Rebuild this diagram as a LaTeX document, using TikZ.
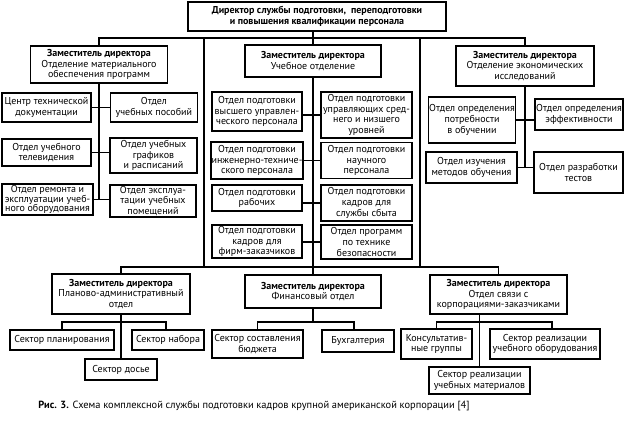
\documentclass[tikz,border=0pt]{standalone}
\usepackage{fontspec}
\setmainfont{PT Sans}
\newfontfamily\capfont{PT Sans}
\usetikzlibrary{positioning}

\begin{document}
\begin{tikzpicture}[x=1pt, y=-1pt,
    box/.style={draw, line width=1.4pt, align=center, inner sep=0.5pt, font=\fontsize{10}{10.8}\selectfont},
    bus/.style={line width=1.2pt}]
    \useasboundingbox (0,0) rectangle (625,422);
    % top and deputies
    \node[box, minimum width=258, minimum height=29] (dir) at (317,16.5) {\textbf{Директор службы подготовки,\ \ переподготовки}\\\textbf{и повышения квалификации персонала}};
    \node[box, minimum width=137, minimum height=37] (z1) at (99,64.5) {\textbf{Заместитель директора}\\Отделение материального\\обеспечения программ};
    \node[box, minimum width=136, minimum height=32] (z2) at (313,61) {\textbf{Заместитель директора}\\Учебное отделение};
    \node[box, minimum width=138, minimum height=40] (z3) at (525,66) {\textbf{Заместитель директора}\\Отделение экономических\\исследований};
    % left column
    \node[box, minimum width=89, minimum height=29] (a1) at (46.5,107.5) {Центр технической\\документации};
    \node[box, minimum width=87, minimum height=29, right=18pt of a1] (a2) {Отдел\\учебных пособий};
    \node[box, minimum width=89, minimum height=27] (a3) at (46.5,152.5) {Отдел учебного\\телевидения};
    \node[box, minimum width=87, minimum height=35] (a4) at (153.5,155.5) {Отдел учебных\\графиков\\и расписаний};
    \node[box, minimum width=91, minimum height=31, font=\fontsize{10}{9.8}\selectfont] (a5) at (47.5,199.5) {Отдел ремонта и\\эксплуатации учеб-\\ного оборудования};
    \node[box, minimum width=86, minimum height=32] (a6) at (153,201) {Отдел эксплуа-\\тации учебных\\помещений};
    % centre column
    \node[box, minimum width=90, minimum height=39] (c1) at (257,111.5) {Отдел подготовки\\высшего управлен-\\ческого персонала};
    \node[box, minimum width=91, minimum height=46] (c2) at (366.5,115) {Отдел подготовки\\управляющих сред-\\него и низшего\\уровней};
    \node[box, minimum width=90, minimum height=37] (c3) at (257,160.5) {Отдел подготовки\\инженерно-техниче-\\ского персонала};
    \node[box, minimum width=91, minimum height=36] (c4) at (366.5,160.5) {Отдел подготовки\\научного\\персонала};
    \node[box, minimum width=90, minimum height=26] (c5) at (257,198) {Отдел подготовки\\рабочих};
    \node[box, minimum width=91, minimum height=36] (c6) at (366.5,203) {Отдел подготовки\\кадров для\\службы сбыта};
    \node[box, minimum width=90, minimum height=33] (c7) at (257,241.5) {Отдел подготовки\\кадров для\\фирм-заказчиков};
    \node[box, minimum width=91, minimum height=34] (c8) at (366.5,242) {Отдел программ\\по технике\\безопасности};
    % right column
    \node[box, minimum width=86, minimum height=46] (b1) at (472,120) {Отдел определения\\потребности\\в обучении};
    \node[box, minimum width=88, minimum height=31] (b2) at (579,114.5) {Отдел определения\\эффективности};
    \node[box, minimum width=91, minimum height=31] (b3) at (471.5,167.5) {Отдел изучения\\методов обучения};
    \node[box, minimum width=89, minimum height=41] (b4) at (578.5,172.5) {Отдел разработки\\тестов};
    % bottom row
    \node[box, minimum width=138, minimum height=40] (z4) at (121,294) {\textbf{Заместитель директора}\\Планово-административный\\отдел};
    \node[box, minimum width=136, minimum height=33] (z5) at (313,291.5) {\textbf{Заместитель директора}\\Финансовый отдел};
    \node[box, minimum width=137, minimum height=39] (z6) at (498.5,294.5) {\textbf{Заместитель директора}\\Отдел связи с\\корпорациями-заказчиками};
    \node[box, minimum width=104, minimum height=20] (s1) at (62,340) {Сектор планирования};
    \node[box, minimum width=72, minimum height=20] (s2) at (168,340) {Сектор набора};
    \node[box, minimum width=72, minimum height=21] (s3) at (121,369.5) {Сектор досье};
    \node[box, minimum width=91, minimum height=28] (f1) at (257.5,344) {Сектор составления\\бюджета};
    \node[box, minimum width=72, minimum height=22] (f2) at (358,341) {Бухгалтерия};
    \node[box, minimum width=71, minimum height=30] (k1) at (436.5,344) {Консультатив-\\ные группы};
    \node[box, minimum width=110, minimum height=30] (k2) at (545,344) {Сектор реализации\\учебного оборудования};
    \node[box, minimum width=101, minimum height=27] (k3) at (479.5,380.5) {Сектор реализации\\учебных материалов};
    \node[font=\capfont\fontsize{10.4}{12}\selectfont] (cap) at (254,406) {\textbf{Рис. 3.} Схема комплексной службы подготовки кадров крупной американской корпорации [4]};

    % connectors
    \coordinate (bt) at (0,38);
    \coordinate (bb) at (0,267);
    \coordinate (sb) at (0,322);
    \coordinate (fr1) at (204,38);
    \coordinate (fr2) at (420,267);
    \draw[bus] (dir.south -| z2) -- (z2.north);
    \draw[bus] (z1.north) -- (z1.north |- bt) -- (z3.north |- bt) -- (z3.north);
    \draw[bus] (fr1) rectangle (fr2);
    \draw[bus] (z4.north) -- (z4.north |- bb) -- (z6.north |- bb) -- (z6.north);
    \draw[bus] (z2.south) -- (z5.north);
    \draw[bus] (z1.south) -- (z1.south |- a5.east);
    \draw[bus] (a1) -- (a2);
    \draw[bus] (a3.east) -- (a3.east -| a4.west);
    \draw[bus] (a5.east) -- (a5.east -| a6.west);
    \draw[bus] (c2.west) -- (c2.west -| c1.east);
    \draw[bus] (c3) -- (c4);
    \draw[bus] (c6.west) -- (c6.west -| c5.east);
    \draw[bus] (c8.west) -- (c8.west -| c7.east);
    \draw[bus] (z3.south) -- (z3.south |- b3.east);
    \draw[bus] (b1.east) -- (b1.east -| b2.west);
    \draw[bus] (b3.east) -- (b3.east -| b4.west);
    \draw[bus] (z4.south) -- (s3.north);
    \draw[bus] (s1.north) -- (s1.north |- sb) -- ([xshift=-2pt]s2.north |- sb) -- ([xshift=-2pt]s2.north);
    \draw[bus] (z5.south) -- (z5.south |- sb);
    \draw[bus] (f1.north) -- (f1.north |- sb) -- ([xshift=-4pt]f2.north |- sb) -- ([xshift=-4pt]f2.north);
    \draw[bus] (k3.north |- z6.south) -- (k3.north);
    \draw[bus] (k1.north) -- (k1.north |- sb) -- ([xshift=7pt]k2.north |- sb) -- ([xshift=7pt]k2.north);
\end{tikzpicture}
\end{document}
